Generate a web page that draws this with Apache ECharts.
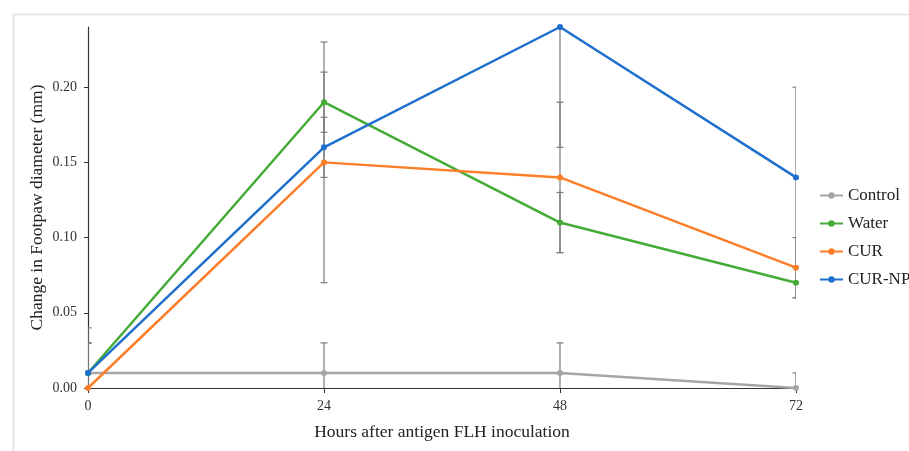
<!DOCTYPE html>
<html>
<head>
<meta charset="utf-8">
<script src="https://cdn.jsdelivr.net/npm/echarts@6/dist/echarts.min.js"></script>
<style>
html,body{margin:0;padding:0;background:#fff;}
#chart{width:909px;height:451px;}
</style>
</head>
<body>
<div id="chart"></div>
<script>
// ---- data ----
var hours = [0, 24, 48, 72];
var seriesNames = ['Control', 'Water', 'CUR', 'CUR-NP'];
var control = [0.01, 0.01, 0.01, 0.00];
var water   = [0.01, 0.19, 0.11, 0.07];
var cur     = [0.00, 0.15, 0.14, 0.08];
var curNp   = [0.01, 0.16, 0.24, 0.14];
// error bar half-widths (±)
var controlErr = [0.02, 0.02, 0.02, 0.01];
var waterErr   = [0.03, 0.02, 0.02, 0.01];
var curErr     = [0.03, 0.08, 0.05, 0.02];
var curNpErr   = [0.02, 0.02, 0.08, 0.06];
var yTicks = [0, 0.05, 0.10, 0.15, 0.20];

var colors = ['#a5a5a5', '#44ab37', '#fd7e28', '#1f6fcd'];
var values = [control, water, cur, curNp];
var errs = [controlErr, waterErr, curErr, curNpErr];

var font = '"Liberation Serif", "DejaVu Serif", serif';

var series = [];
// error bars (behind lines)
values.forEach(function (vals, si) {
  var data = hours.map(function (h, i) {
    return [h, vals[i] - errs[si][i], vals[i] + errs[si][i]];
  });
  series.push({
    type: 'custom',
    name: seriesNames[si] + ' err',
    z: 1,
    clip: true,
    silent: true,
    renderItem: function (params, api) {
      var x = api.value(0);
      var lo = api.coord([x, api.value(1)]);
      var hi = api.coord([x, api.value(2)]);
      var cw = 3.5;
      var style = { stroke: '#7b7b7b', lineWidth: 1.2, fill: null };
      return {
        type: 'group',
        children: [
          { type: 'line', shape: { x1: lo[0], y1: lo[1], x2: hi[0], y2: hi[1] }, style: style },
          { type: 'line', shape: { x1: lo[0] - cw, y1: lo[1], x2: lo[0] + cw, y2: lo[1] }, style: style },
          { type: 'line', shape: { x1: hi[0] - cw, y1: hi[1], x2: hi[0] + cw, y2: hi[1] }, style: style }
        ]
      };
    },
    data: data
  });
});
values.forEach(function (vals, si) {
  series.push({
    type: 'line',
    name: seriesNames[si],
    z: 2 + si,
    data: hours.map(function (h, i) { return [h, vals[i]]; }),
    symbol: 'circle',
    symbolSize: 6,
    showSymbol: true,
    lineStyle: { width: 2.5, color: colors[si] },
    itemStyle: { color: colors[si] },
    clip: false
  });
});

var chart = echarts.init(document.getElementById('chart'), null, { renderer: 'canvas' });
chart.setOption({
  animation: false,
  backgroundColor: '#ffffff',
  graphic: [{
    type: 'rect',
    left: 11, top: 12,
    shape: { width: 910, height: 460 },
    style: { fill: 'none', stroke: '#e2e2e2', lineWidth: 1.5 },
    silent: true, z: 0
  }],
  grid: { left: 88, right: 113, top: 27, bottom: 63, containLabel: false },
  legend: {
    orient: 'vertical',
    left: 814,
    top: 182,
    padding: [5, 0, 5, 5],
    itemGap: 11,
    itemWidth: 23,
    itemHeight: 8,
    data: seriesNames,
    textStyle: { fontFamily: font, fontSize: 17, color: '#222' }
  },
  xAxis: {
    type: 'value',
    min: 0, max: 72, interval: 24,
    name: 'Hours after antigen FLH inoculation',
    nameLocation: 'middle',
    nameGap: 35,
    nameMoveOverlap: false,
    nameTextStyle: { fontFamily: font, fontSize: 17.5, color: '#222' },
    splitLine: { show: false },
    axisLine: { lineStyle: { color: '#333', width: 1.2 } },
    axisTick: { show: true, length: 5, lineStyle: { color: '#333' } },
    axisLabel: { fontFamily: font, fontSize: 14, color: '#333', margin: 11 }
  },
  yAxis: {
    type: 'value',
    min: 0, max: 0.24,
    name: 'Change in Footpaw diameter (mm)',
    nameLocation: 'middle',
    nameGap: 42,
    nameMoveOverlap: false,
    nameTextStyle: { fontFamily: font, fontSize: 17.5, color: '#222' },
    splitLine: { show: false },
    axisLine: { show: true, lineStyle: { color: '#333', width: 1.2 } },
    axisTick: { show: true, length: 4, customValues: yTicks, lineStyle: { color: '#333' } },
    axisLabel: {
      fontFamily: font, fontSize: 14, color: '#333', margin: 11,
      customValues: yTicks,
      formatter: function (v) { return v.toFixed(2); }
    }
  },
  series: series
});
</script>
</body>
</html>
